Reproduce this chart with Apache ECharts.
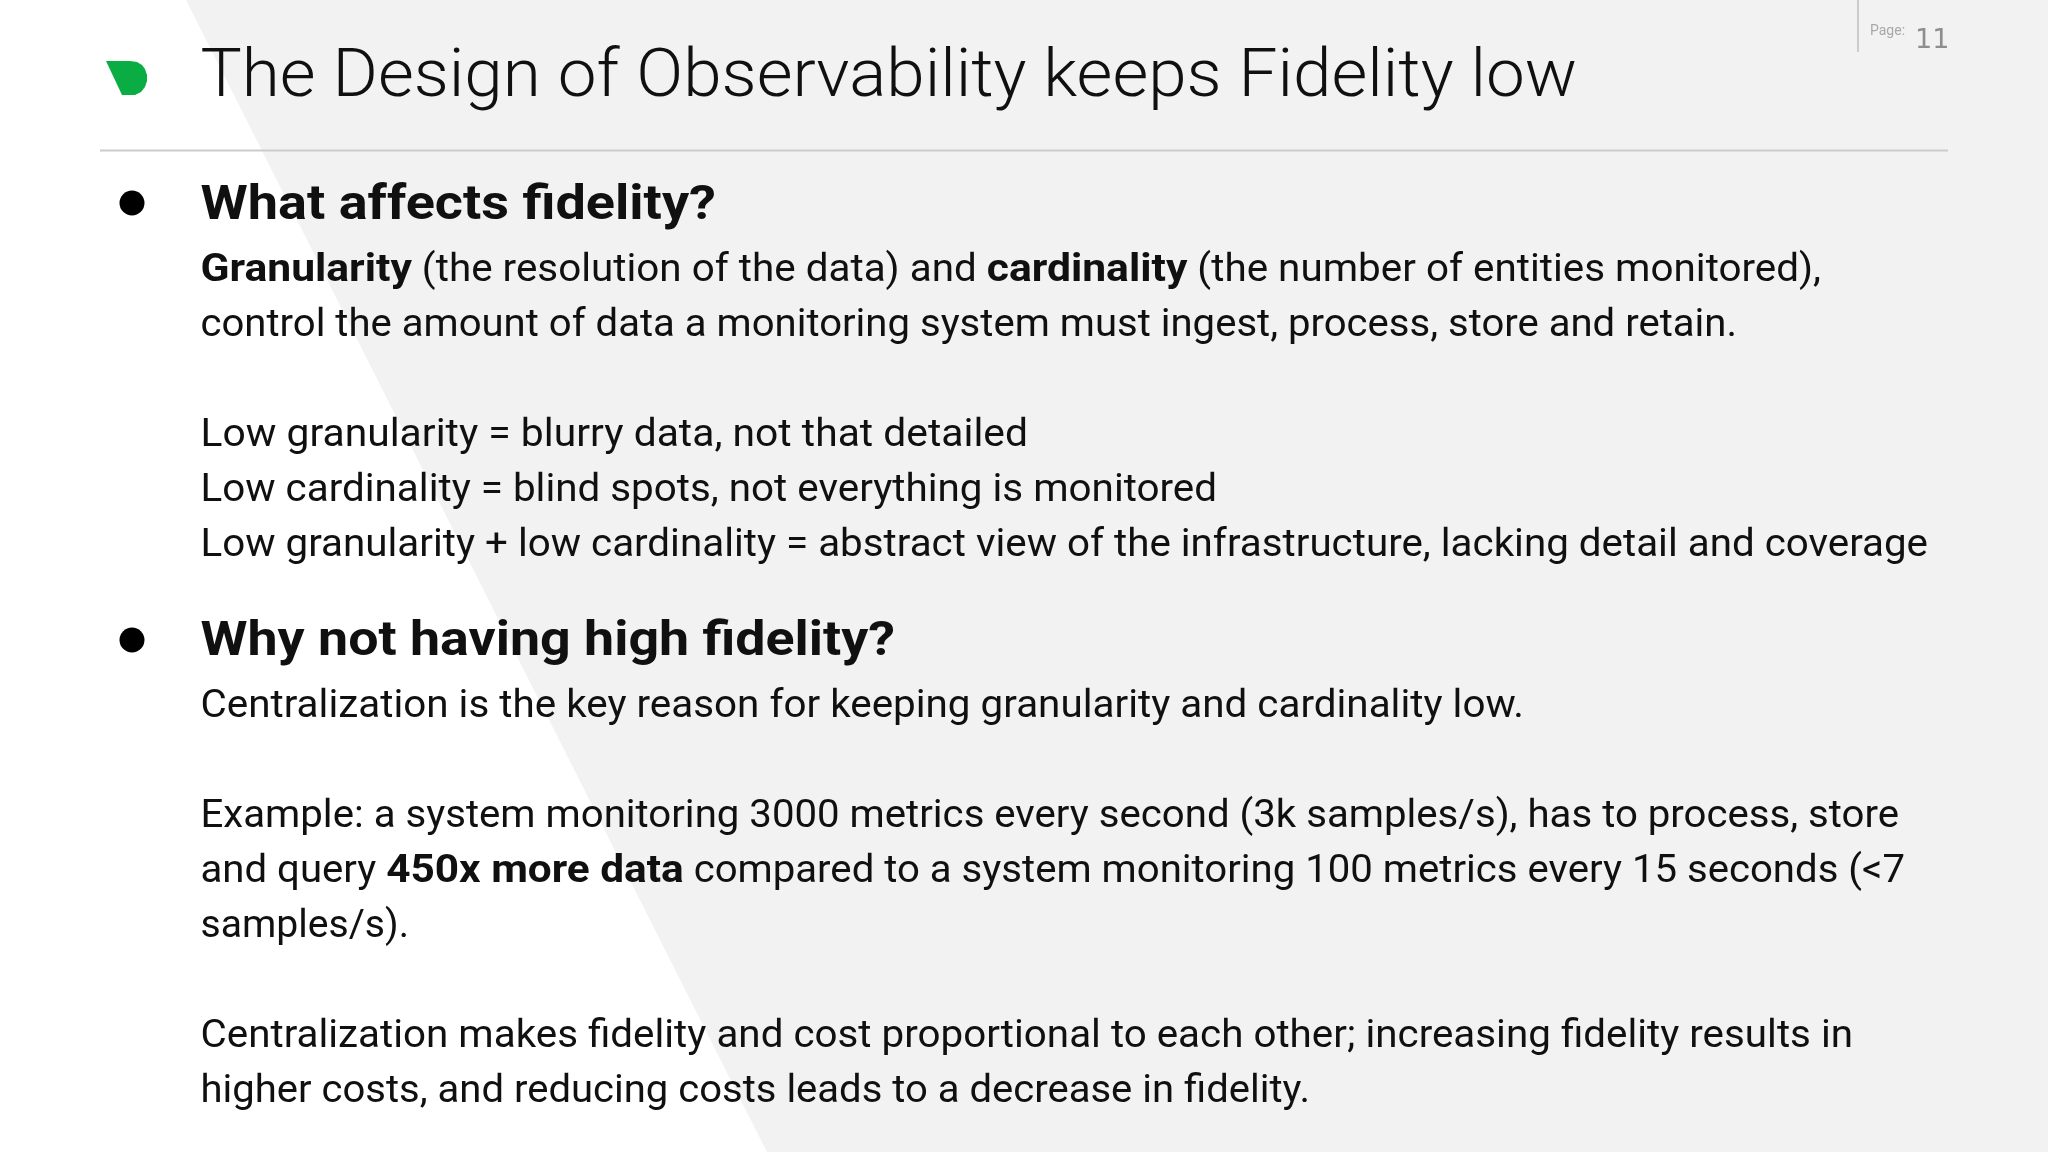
<!DOCTYPE html>
<html><head><meta charset="utf-8">
<style>html,body{margin:0;padding:0;background:#fff}#c{width:2048px;height:1152px}</style>
<script src="https://cdn.jsdelivr.net/npm/echarts@6/dist/echarts.min.js"></script>
</head><body><div id="c"></div>
<script>
// Slide copy; text between asterisks is bold.
const titleText = "The Design of Observability keeps Fidelity low";
const pageLabel = "Page:";
const pageNumber = "11";
const headings = ["What affects fidelity?", "Why not having high fidelity?"];
const bodyLines = [
  "*Granularity* (the resolution of the data) and *cardinality* (the number of entities monitored),",
  "control the amount of data a monitoring system must ingest, process, store and retain.",
  "Low granularity = blurry data, not that detailed",
  "Low cardinality = blind spots, not everything is monitored",
  "Low granularity + low cardinality = abstract view of the infrastructure, lacking detail and coverage",
  "Centralization is the key reason for keeping granularity and cardinality low.",
  "Example: a system monitoring 3000 metrics every second (3k samples/s), has to process, store",
  "and query *450x more data* compared to a system monitoring 100 metrics every 15 seconds (<7",
  "samples/s).",
  "Centralization makes fidelity and cost proportional to each other; increasing fidelity results in",
  "higher costs, and reducing costs leads to a decrease in fidelity."
];
// Layout, kept apart from the copy.
const headingBaselines = [218, 654];
const headingEnds = [716, 895];
const bodyBaselines = [280, 335, 445, 500, 555, 716, 826, 881, 936, 1046, 1101];
const bodyEnds = [1821, 1737, 1028, 1217, 1928, 1524, 1899, 1905, 409, 1853, 1310];

const FF = 'Roboto';
const INK = '#101010';
const LEFT = 200.5;
const BOLD_STRETCH = 1.055;
const DROP = 0.265; // distance from the text box's bottom to its baseline, per px of font size
const ctx = document.createElement('canvas').getContext('2d');
function width(t, font){ ctx.font = font; return ctx.measureText(t).width; }
// Draw one line as runs, fitted between LEFT and its measured right edge.
function line(src, baseline, end, size, normalW, boldW){
  const runs = src.split('*').map((t,i)=>({t, w: i%2 ? boldW : normalW, s: i%2 ? BOLD_STRETCH : 1})).filter(r=>r.t);
  const fontOf = w => `${w} ${size}px ${FF}`;
  const natural = runs.reduce((s,r)=>s+width(r.t,fontOf(r.w))*r.s,0);
  const k = (end-LEFT)/natural;
  let x = LEFT;
  return runs.map(r=>{
    const el = {type:'text', x, y:baseline+size*DROP, scaleX:k*r.s, z:5,
      style:{text:r.t, x:0, y:0, font:fontOf(r.w), fill:INK, verticalAlign:'bottom', textBaseline:'alphabetic'}};
    x += width(r.t,fontOf(r.w))*k*r.s;
    return el;
  });
}
const leaf = [[106,61],[130,61],[137,62],[142,65],[145,69],[147,75],[147,81],[145,87],[141,92],[135,95],[122,95]];
const els = [
  {type:'polygon', z:0, shape:{points:[[186,0],[2048,0],[2048,1152],[767,1152]]}, style:{fill:'#f2f2f2'}},
  {type:'line', z:1, shape:{x1:100,y1:150.5,x2:1948,y2:150.5}, style:{stroke:'#cccccc',lineWidth:2}},
  {type:'line', z:1, shape:{x1:1858,y1:0,x2:1858,y2:52}, style:{stroke:'#cccccc',lineWidth:2}},
  {type:'polygon', z:2, shape:{points:leaf}, style:{fill:'#0aad43'}},
  {type:'circle', z:2, shape:{cx:132,cy:203,r:12.5}, style:{fill:'#000'}},
  {type:'circle', z:2, shape:{cx:132,cy:640,r:12.5}, style:{fill:'#000'}},
  {type:'text', z:5, x:1870, y:35+14*DROP, style:{text:pageLabel, x:0, y:0, font:`400 14px ${FF}`, fill:'#a8a8a8', verticalAlign:'bottom', textBaseline:'alphabetic'}},
  {type:'text', z:5, x:1915, y:47+27*DROP, style:{text:pageNumber, x:0, y:0, font:`400 27px "DejaVu Sans"`, fill:'#8e8e8e', verticalAlign:'bottom', textBaseline:'alphabetic'}}
];
els.push(...line(titleText, 95, 1577, 67, 300, 300));
headings.forEach((h,i)=>els.push(...line(h, headingBaselines[i], headingEnds[i], 49, 700, 700)));
bodyLines.forEach((l,i)=>els.push(...line(l, bodyBaselines[i], bodyEnds[i], 39, 400, 700)));

const chart = echarts.init(document.getElementById('c'), null, {renderer:'canvas', width:2048, height:1152});
chart.setOption({animation:false, backgroundColor:'#ffffff', graphic:{elements:els}});
</script></body></html>
